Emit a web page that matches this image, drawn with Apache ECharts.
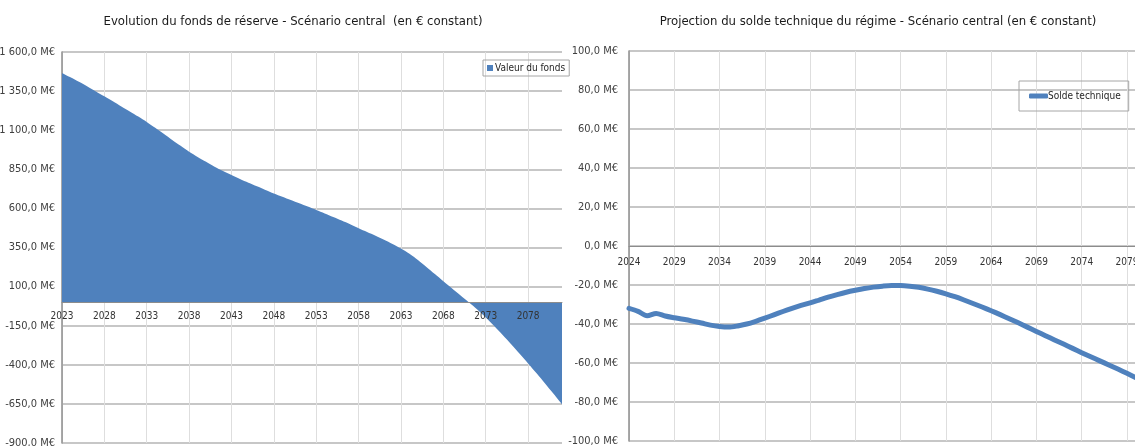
<!DOCTYPE html>
<html>
<head>
<meta charset="utf-8">
<script src="https://cdn.jsdelivr.net/npm/echarts@6/dist/echarts.min.js"></script>
<style>
  html, body { margin: 0; padding: 0; background: #fff; }
  #chart { width: 1135px; height: 446px; }
</style>
</head>
<body>
<div id="chart"></div>
<script>
// Reserve fund value (M€), 2023–2082
const fundYears = [];
for (let y = 2023; y <= 2082; y++) fundYears.push(String(y));
const fundValues = [
  1466, 1438, 1409, 1379, 1348, 1317, 1285, 1252, 1220, 1187,
  1153, 1115, 1077, 1038, 1000,  962,  929,  898,  867,  839,
   813,  788,  764,  741,  718,  696,  675,  654,  633,  612,
   590,  568,  545,  522,  498,  473,  449,  425,  400,  373,
   344,  310,  270,  226,  180,  134,   89,   44,    0,  -46,
   -97, -152, -209, -268, -329, -391, -454, -519, -585, -652
];

// Technical balance of the scheme (M€), 2024–2080
const balanceYears = [];
for (let y = 2024; y <= 2080; y++) balanceYears.push(String(y));
const balanceValues = [
  -32.0, -33.5, -35.8, -34.6, -35.9, -36.8, -37.6, -38.5, -39.5, -40.6,
  -41.3, -41.6, -41.0, -40.0, -38.6, -37.0, -35.3, -33.6, -32.0, -30.5,
  -29.2, -27.7, -26.2, -24.9, -23.7, -22.7, -21.8, -21.1, -20.6, -20.3,
  -20.3, -20.6, -21.2, -22.1, -23.2, -24.5, -26.0, -27.7, -29.5, -31.3,
  -33.2, -35.2, -37.3, -39.4, -41.6, -43.8, -46.0, -48.2, -50.3, -52.5,
  -54.7, -56.8, -58.9, -61.0, -63.1, -65.3, -67.6
];

const titles = [
  'Evolution du fonds de réserve - Scénario central  (en € constant)',
  'Projection du solde technique du régime - Scénario central (en € constant)'
];
const seriesNames = ['Valeur du fonds', 'Solde technique'];

// value-axis ranges
const fundRange = { min: -900, max: 1600, interval: 250 };
const balanceRange = { min: -100, max: 100, interval: 20 };

const FONT = '"Liberation Sans Narrow", "DejaVu Sans Condensed", sans-serif';
const BLUE = '#4f81bd';

const gridL = { left: 62, top: 52, width: 500, height: 391, outerBoundsMode: 'none' };
const gridR = { left: 629, top: 51, width: 507, height: 390, outerBoundsMode: 'none' };

// distance from the bottom of a grid up to its zero line, so the category
// axis (line and year labels) sits on y = 0
function zeroOffset(grid, range) {
  return -grid.height * (0 - range.min) / (range.max - range.min);
}

function euroM(v) {
  const neg = v < 0;
  const parts = Math.abs(v).toFixed(1).split('.');
  const intPart = parts[0].replace(/\B(?=(\d{3})+(?!\d))/g, ' ');
  return (neg ? '-' : '') + intPart + ',' + parts[1] + ' M€';
}

const yLabelStyle = { color: '#404040', fontFamily: FONT, fontSize: 11 };
const xLabelStyle = { color: '#333333', fontFamily: FONT, fontSize: 10 };
const hSplit = { show: true, lineStyle: { color: '#b4b4b4', width: 1.6 } };
const vSplit = { show: true, interval: 4, lineStyle: { color: '#dedede', width: 1 } };

// category axis used for the vertical gridlines (drawn beneath the series)
function gridAxis(gridIndex, years) {
  return { type: 'category', gridIndex: gridIndex, data: years, boundaryGap: false,
    axisLine: { show: false }, axisTick: { show: false }, axisLabel: { show: false },
    splitLine: vSplit, z: 0 };
}
// category axis carrying the zero line and the year labels (drawn above the series)
function labelAxis(gridIndex, years, grid, range, margin) {
  return { type: 'category', gridIndex: gridIndex, data: years, boundaryGap: false,
    position: 'bottom', offset: zeroOffset(grid, range), z: 5,
    axisLine: { onZero: false, lineStyle: { color: '#8c8c8c', width: 1 } },
    axisTick: { show: false },
    axisLabel: Object.assign({ interval: 4, margin: margin }, xLabelStyle),
    splitLine: { show: false } };
}

const chart = echarts.init(document.getElementById('chart'), null, { renderer: 'canvas' });
chart.setOption({
  animation: false,
  title: [
    { text: titles[0], left: 288, top: 10, textAlign: 'center',
      textStyle: { fontFamily: FONT, fontSize: 13, fontWeight: 'normal', color: '#1a1a1a' } },
    { text: titles[1], left: 873, top: 10, textAlign: 'center',
      textStyle: { fontFamily: FONT, fontSize: 13, fontWeight: 'normal', color: '#1a1a1a' } }
  ],
  legend: [
    { data: [seriesNames[0]], left: 483, top: 60, orient: 'vertical',
      padding: [3, 4, 3, 4], borderColor: '#a6a6a6', borderWidth: 1,
      icon: 'rect', itemWidth: 6, itemHeight: 6,
      textStyle: { fontFamily: FONT, fontSize: 10, color: '#262626', padding: [0, 0, 0, -3] } },
    { data: [seriesNames[1]], left: 1019, top: 81, orient: 'vertical',
      padding: [10, 8, 10, 10], borderColor: '#a6a6a6', borderWidth: 1,
      icon: 'roundRect', itemWidth: 19, itemHeight: 5,
      textStyle: { fontFamily: FONT, fontSize: 10, color: '#262626', padding: [0, 0, 0, -5] } }
  ],
  grid: [gridL, gridR],
  xAxis: [
    gridAxis(0, fundYears),
    gridAxis(1, balanceYears),
    labelAxis(0, fundYears, gridL, fundRange, 9),
    labelAxis(1, balanceYears, gridR, balanceRange, 11)
  ],
  yAxis: [
    Object.assign({ type: 'value', gridIndex: 0,
      axisLine: { show: true, lineStyle: { color: '#8c8c8c', width: 1.5 } },
      axisTick: { show: false },
      axisLabel: Object.assign({ formatter: euroM, margin: 7 }, yLabelStyle),
      splitLine: hSplit }, fundRange),
    Object.assign({ type: 'value', gridIndex: 1,
      axisLine: { show: true, lineStyle: { color: '#8c8c8c', width: 1.5 } },
      axisTick: { show: false },
      axisLabel: Object.assign({ formatter: euroM, margin: 11 }, yLabelStyle),
      splitLine: hSplit }, balanceRange)
  ],
  series: [
    { name: seriesNames[0], type: 'line', xAxisIndex: 0, yAxisIndex: 0,
      data: fundValues, showSymbol: false, smooth: 0.3,
      lineStyle: { width: 0, color: BLUE }, itemStyle: { color: BLUE },
      areaStyle: { color: BLUE, opacity: 1 } },
    { name: seriesNames[1], type: 'line', xAxisIndex: 1, yAxisIndex: 1,
      data: balanceValues, showSymbol: false, smooth: 0.3,
      lineStyle: { width: 5, color: BLUE, cap: 'round', join: 'round' },
      itemStyle: { color: BLUE } }
  ]
});
</script>
</body>
</html>
